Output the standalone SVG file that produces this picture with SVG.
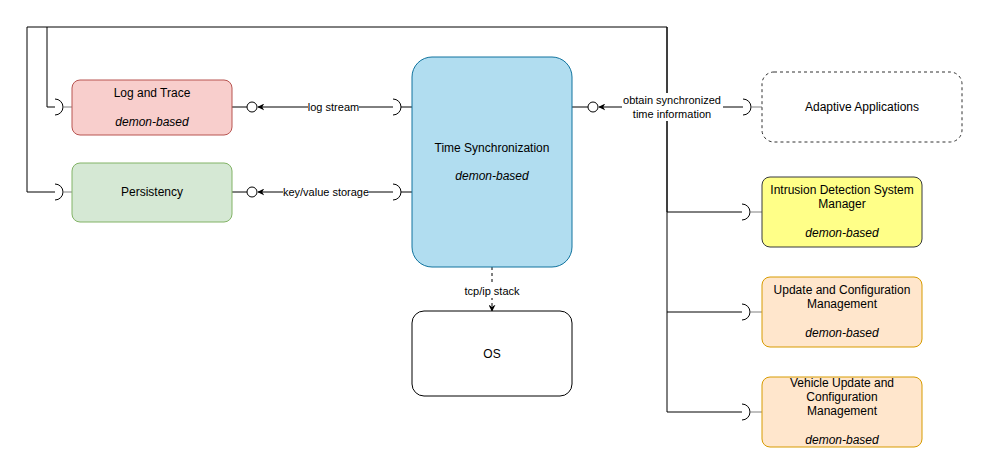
<svg xmlns="http://www.w3.org/2000/svg" width="983" height="469" viewBox="0 0 983 469">
<defs>
<style>
text{font-family:"Liberation Sans",Arial,sans-serif;font-size:12px;fill:#000;text-anchor:middle}
.it{font-style:italic}
.lbl{font-size:11px}
.ln{fill:none;stroke:#000;stroke-width:1}
.stub{fill:none;stroke:#808080;stroke-width:1}
.sock{fill:none;stroke:#000;stroke-width:1}
.lol{fill:#fff;stroke:#000;stroke-width:1}
.bg{fill:#fff}
</style>
<marker id="arr" viewBox="0 0 10 10" refX="9" refY="5" markerWidth="7" markerHeight="7" orient="auto-start-reverse" markerUnits="userSpaceOnUse">
<path d="M0,0 L10,5 L0,10 L3,5 Z" fill="#000"/>
</marker>
</defs>

<g id="connectors">
<!-- left bus -->
<path class="ln" d="M667,212 V27 H27 V192 H55"/>
<path class="ln" d="M47,27 V107 H55"/>
<!-- right bus -->
<path class="ln" d="M667,27 V412"/>
<path class="ln" d="M667,212 H742"/>
<path class="ln" d="M667,312 H742"/>
<path class="ln" d="M667,412 H742"/>
<!-- sockets -->
<path class="sock" d="M55,99 A8,8 0 0 1 55,115"/>
<path class="stub" d="M63,107 H72"/>
<path class="sock" d="M55,184 A8,8 0 0 1 55,200"/>
<path class="stub" d="M63,192 H72"/>
<path class="sock" d="M742,204 A8,8 0 0 1 742,220"/>
<path class="stub" d="M750,212 H762"/>
<path class="sock" d="M742,304 A8,8 0 0 1 742,320"/>
<path class="stub" d="M750,312 H762"/>
<path class="sock" d="M742,404 A8,8 0 0 1 742,420"/>
<path class="stub" d="M750,412 H762"/>

<!-- log stream -->
<path class="ln" d="M232,107 H247"/>
<circle class="lol" cx="252" cy="107" r="5"/>
<path class="ln" d="M393,107 H258" marker-end="url(#arr)"/>
<path class="sock" d="M393,99 A8,8 0 0 1 393,115"/>
<path class="ln" d="M401,107 H412"/>
<rect class="bg" x="308" y="100" width="51" height="14"/>
<text class="lbl" x="333.5" y="111">log stream</text>

<!-- key/value -->
<path class="ln" d="M232,192 H247"/>
<circle class="lol" cx="252" cy="192" r="5"/>
<path class="ln" d="M393,192 H258" marker-end="url(#arr)"/>
<path class="sock" d="M393,184 A8,8 0 0 1 393,200"/>
<path class="ln" d="M401,192 H412"/>
<rect class="bg" x="283" y="185" width="86" height="14"/>
<text class="lbl" x="326" y="196">key/value storage</text>

<!-- obtain synchronized -->
<path class="ln" d="M572,107 H588"/>
<circle class="lol" cx="593" cy="107" r="5"/>
<path class="ln" d="M743,107 H599" marker-end="url(#arr)"/>
<path class="sock" d="M743,99 A8,8 0 0 1 743,115"/>
<path class="stub" d="M751,107 H762"/>
<rect class="bg" x="622" y="93" width="101" height="28"/>
<text class="lbl" x="672" y="104">obtain synchronized</text>
<text class="lbl" x="672" y="118">time information</text>

<!-- tcp/ip -->
<path class="ln" d="M492,267 V311" stroke-dasharray="3 3" marker-end="url(#arr)"/>
<rect class="bg" x="464" y="284" width="56" height="14"/>
<text class="lbl" x="492" y="295">tcp/ip stack</text>
</g>

<g id="log-and-trace">
<rect x="72" y="80" width="160" height="55" rx="8" fill="#f8cecc" stroke="#b85450"/>
<text x="152" y="97">Log and Trace</text>
<text class="it" x="152" y="126">demon-based</text>
</g>

<g id="persistency">
<rect x="72" y="163" width="160" height="59" rx="8" fill="#d5e8d4" stroke="#82b366"/>
<text x="152" y="196">Persistency</text>
</g>

<g id="time-synchronization">
<rect x="412" y="57" width="160" height="210" rx="20" fill="#b1ddf0" stroke="#10739e"/>
<text x="492" y="152">Time Synchronization</text>
<text class="it" x="492" y="180">demon-based</text>
</g>

<g id="os">
<rect x="412" y="311" width="160" height="85" rx="12" fill="#fff" stroke="#000"/>
<text x="492" y="358">OS</text>
</g>

<g id="adaptive-applications">
<rect x="762" y="72" width="200" height="70" rx="12" fill="#fff" stroke="#333" stroke-dasharray="3 3"/>
<text x="862" y="111">Adaptive Applications</text>
</g>

<g id="ids-manager">
<rect x="762" y="177" width="160" height="70" rx="8" fill="#ffff88" stroke="#36393d"/>
<text x="842" y="194">Intrusion Detection System</text>
<text x="842" y="208">Manager</text>
<text class="it" x="842" y="237">demon-based</text>
</g>

<g id="ucm">
<rect x="762" y="277" width="160" height="70" rx="8" fill="#ffe6cc" stroke="#d79b00"/>
<text x="842" y="294">Update and Configuration</text>
<text x="842" y="308">Management</text>
<text class="it" x="842" y="337">demon-based</text>
</g>

<g id="vucm">
<rect x="762" y="377" width="160" height="70" rx="8" fill="#ffe6cc" stroke="#d79b00"/>
<text x="842" y="387">Vehicle Update and</text>
<text x="842" y="401">Configuration</text>
<text x="842" y="415">Management</text>
<text class="it" x="842" y="444">demon-based</text>
</g>
</svg>
